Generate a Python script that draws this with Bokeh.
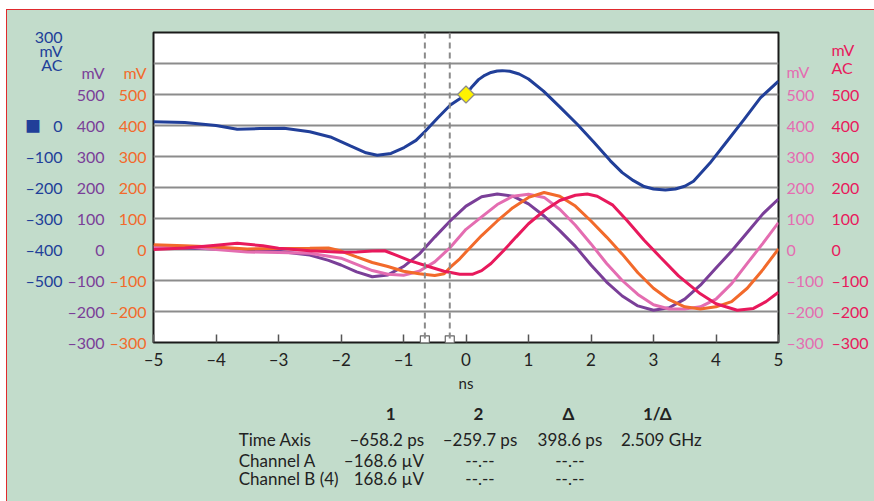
import math
from bokeh.plotting import figure
from bokeh.layouts import column
from bokeh.models import LinearAxis, Range1d, FixedTicker, Span
from bokeh.core.properties import value
from bokeh.embed import file_html
from bokeh.resources import INLINE

# ---------------- data ----------------
# time axis in ns
purple_t = [-5, -4.5, -4, -3.5, -3, -2.5, -2.2, -2.0, -1.75, -1.5, -1.25, -1.0, -0.75, -0.5, -0.25,
            0, 0.25, 0.5, 0.75, 1.0, 1.25, 1.5, 1.75, 2.0, 2.25, 2.5, 2.75, 3.0, 3.25, 3.5, 3.75,
            4.0, 4.25, 4.5, 4.75, 5.0]
purple_mv = [7, 5, 2, -3, -6, -18, -35, -50, -72, -88, -82, -55, -15, 40, 93,
             140, 170, 179, 172, 147, 108, 61, 10, -50, -105, -150, -182, -196, -188, -160, -115,
             -60, -5, 55, 115, 163]

pink_t = [-5, -4.5, -4, -3.5, -3, -2.5, -2.0, -1.75, -1.5, -1.25, -1.0, -0.75, -0.5, -0.25,
          0, 0.25, 0.5, 0.75, 1.0, 1.25, 1.5, 1.75, 2.0, 2.25, 2.5, 2.75, 3.0, 3.25, 3.5, 3.75,
          4.0, 4.25, 4.5, 4.75, 5.0]
pink_mv = [10, 10, 0, -8, -10, -12, -28, -48, -68, -80, -83, -70, -40, 7,
           65, 105, 145, 172, 178, 168, 130, 78, 18, -45, -100, -145, -178, -192, -192, -185,
           -160, -110, -45, 20, 87]

orange_t = [-5, -4.5, -4, -3.5, -3, -2.5, -2.2, -2.0, -1.75, -1.5, -1.25, -1.0, -0.75, -0.5, -0.35,
            -0.25, -0.1, 0, 0.25, 0.5, 0.75, 1.0, 1.25, 1.5, 1.75, 2.0, 2.25, 2.5, 2.75, 3.0,
            3.25, 3.5, 3.75, 4.0, 4.25, 4.5, 4.75, 5.0]
orange_mv = [15, 12, 8, 2, 3, 4, 5, -5, -24, -42, -55, -70, -78, -84, -78,
             -57, -30, -8, 45, 92, 135, 168, 184, 172, 140, 92, 40, -15, -75, -125,
             -162, -185, -192, -185, -168, -125, -65, 2]

crimson_t = [-5, -4.5, -4, -3.66, -3.25, -3.0, -2.5, -2.0, -1.75, -1.5, -1.3, -1.1, -0.9, -0.6,
             -0.35, -0.1, 0.1, 0.25, 0.4, 0.6, 0.8, 1.0, 1.25, 1.5, 1.75, 1.94, 2.1, 2.35, 2.58,
             2.85, 3.11, 3.4, 3.75, 4.0, 4.34, 4.6, 4.8, 5.0]
crimson_mv = [0, 5, 14, 20, 12, 4, -4, -9, -8, -5, -4, -20, -36, -55,
              -70, -80, -80, -68, -45, -4, 40, 83, 125, 158, 175, 179, 172, 143, 93,
              30, -25, -85, -143, -175, -196, -190, -168, -138]

# blue channel (300 mV AC), in its own axis units
blue_t = [-5, -4.5, -4.0, -3.66, -3.3, -2.91, -2.5, -2.17, -1.85, -1.6, -1.42, -1.2, -0.99, -0.8,
          -0.66, -0.45, -0.25, -0.1, 0, 0.1, 0.2, 0.3, 0.4, 0.5, 0.58, 0.7, 0.85, 1.0, 1.24, 1.5,
          1.78, 2.05, 2.31, 2.5, 2.68, 2.85, 3.0, 3.19, 3.35, 3.5, 3.64, 3.9, 4.18, 4.45, 4.71, 5.0]
blue_mv = [12, 10, 0, -12, -10, -9, -20, -37, -66, -88, -96, -90, -71, -48,
           -20, 25, 66, 86, 100, 126, 148, 162, 171, 176, 177, 175, 166, 150, 111, 60,
           4, -55, -114, -152, -178, -197, -205, -208, -205, -196, -180, -122, -50, 20, 89, 143]

trigger_t = 0.0
trigger_mv = 100
cursor_ns = [-0.6582, -0.2597]

x_ticks = [-5, -4, -3, -2, -1, 0, 1, 2, 3, 4, 5]
main_ticks = [-300, -200, -100, 0, 100, 200, 300, 400, 500]
blue_ticks = [-500, -400, -300, -200, -100, 0]
grid_ticks = [-200, -100, 0, 100, 200, 300, 400, 500, 600]

blue_header = ["300", "mV", "AC"]
crimson_header = ["mV", "AC"]
unit_header = "mV"

table_cols = ["1", "2", "Δ", "1/Δ"]
table_rows = ["Time Axis", "Channel A", "Channel B (4)"]
table_vals = [["–658.2 ps", "–259.7 ps", "398.6 ps", "2.509 GHz"],
              ["–168.6 µV", "--.--", "--.--", ""],
              ["168.6 µV", "--.--", "--.--", ""]]

# ---------------- style ----------------
FONT = "Lato"
BG = "#c2dccb"
C_BLUE = "#213f99"
C_PURPLE = "#7a3f98"
C_ORANGE = "#f26a2b"
C_PINK = "#e46db1"
C_CRIMSON = "#e8195c"
GRID = "#8c8c8c"
TXT = "#222222"
NB = "\u00a0"


def lab(v):
    return ("–" + str(abs(v))) if v < 0 else str(v)


W = 867
H_MAIN = 390
H_TAB = 101
PX0, PY0 = 7, 10          # page position of the canvas origin

p = figure(width=W, height=H_MAIN, x_range=Range1d(-5, 5), y_range=Range1d(-300, 700),
           output_backend="svg", toolbar_location=None,
           min_border_left=146, min_border_right=96, min_border_top=22, min_border_bottom=58)
p.extra_y_ranges = {"blue": Range1d(-700, 300)}
p.background_fill_color = "white"
p.border_fill_color = BG
p.outline_line_color = "#1a1a1a"
p.outline_line_width = 2

p.xgrid.visible = False
p.ygrid.ticker = FixedTicker(ticks=grid_ticks)
p.ygrid.grid_line_color = GRID
p.ygrid.grid_line_width = 2

# header rows sit above the top tick, expressed in each axis' units
HDR1 = 572.0            # "mV" row of the inner axes
BLUE_HDR = [287.8, 242.8, 197.7]
CRIM_HDR = [646.0, 588.0]


def style_axis(ax, ticks, labels, color, standoff, font=FONT):
    ax.ticker = FixedTicker(ticks=ticks)
    ax.major_label_overrides = {t: s for t, s in zip(ticks, labels)}
    ax.axis_line_color = None
    ax.major_tick_line_color = None
    ax.minor_tick_line_color = None
    ax.major_tick_out = 0
    ax.major_tick_in = 0
    ax.major_label_standoff = standoff
    ax.major_label_text_color = color
    ax.major_label_text_font = font
    ax.major_label_text_font_size = "16px"


main_labels = [lab(t) for t in main_ticks]

# left axes: orange (closest), purple, blue (outermost)
style_axis(p.yaxis[0], main_ticks + [HDR1], main_labels + [unit_header], C_ORANGE, 7)
ax_purple = LinearAxis()
style_axis(ax_purple, main_ticks + [HDR1], main_labels + [unit_header], C_PURPLE, 2)
p.add_layout(ax_purple, "left")
ax_blue = LinearAxis(y_range_name="blue")
blue_labels = [lab(t) for t in blue_ticks]
blue_labels[-1] = "■" + NB * 3 + "0"
style_axis(ax_blue, blue_ticks + BLUE_HDR, blue_labels + blue_header, C_BLUE, 2,
           font="Lato, 'Noto Sans CJK JP'")
p.add_layout(ax_blue, "left")

# right axes: pink (closest), crimson
ax_pink = LinearAxis()
style_axis(ax_pink, main_ticks + [HDR1 + 3], main_labels + [unit_header], C_PINK, 8)
p.add_layout(ax_pink, "right")
ax_crim = LinearAxis()
style_axis(ax_crim, main_ticks + CRIM_HDR, main_labels + crimson_header, C_CRIMSON, 5)
p.add_layout(ax_crim, "right")

# x axis
xa = p.xaxis[0]
xa.ticker = FixedTicker(ticks=x_ticks)
xa.major_label_overrides = {t: lab(t) for t in x_ticks}
xa.axis_line_color = None
xa.minor_tick_line_color = None
xa.major_tick_in = 8
xa.major_tick_out = 0
xa.major_tick_line_color = "#555555"
xa.major_tick_line_width = 1.5
xa.major_label_standoff = 6
xa.major_label_text_font = FONT
xa.major_label_text_font_size = "17px"
xa.major_label_text_color = TXT
xa.axis_label = "ns"
xa.axis_label_text_font = FONT
xa.axis_label_text_font_size = "15px"
xa.axis_label_text_font_style = "normal"
xa.axis_label_text_color = TXT
xa.axis_label_standoff = 1

# cursors
for c in cursor_ns:
    p.add_layout(Span(location=c, dimension="height", line_color="#8a8a8a",
                      line_dash="6 4", line_width=2))

# traces
p.line(purple_t, purple_mv, line_color=C_PURPLE, line_width=3)
p.line(pink_t, pink_mv, line_color=C_PINK, line_width=3)
p.line(orange_t, orange_mv, line_color=C_ORANGE, line_width=3)
p.line(crimson_t, crimson_mv, line_color=C_CRIMSON, line_width=3)
p.line(blue_t, blue_mv, line_color=C_BLUE, line_width=3, y_range_name="blue")

# trigger diamond and cursor handles
p.scatter([trigger_t], [trigger_mv], y_range_name="blue", marker="square", angle=math.pi / 4,
          size=12, fill_color="#fff200", line_color="#8a8a8a", line_width=1.2)
p.scatter(cursor_ns, [p.y_range.start + 7] * len(cursor_ns), marker="square", size=9,
          fill_color="white", line_color="#666666", line_width=1.2)

# ---------------- measurement table (second figure, page-pixel coords) ----------------
# In a column the frames line up horizontally with the main plot frame.
FL, FR = 152.7, 778.3
TY0 = PY0 + H_MAIN
t = figure(width=W, height=H_TAB, x_range=Range1d(FL, FR), y_range=Range1d(TY0 + H_TAB, TY0),
           output_backend="svg", toolbar_location=None, x_axis_type=None, y_axis_type=None,
           min_border_left=146, min_border_right=96, min_border_top=0, min_border_bottom=0)
t.background_fill_color = BG
t.border_fill_color = BG
t.outline_line_color = None
t.grid.visible = False

col_x = [390, 478, 568, 657]
val_x = [423.5, 479.5, 569.5, 661]
val_align = ["right", "center", "center", "center"]
row_y = [439, 459.5, 478]

common = dict(text_font=value(FONT), text_font_size="17px", text_color=TXT,
              text_baseline="middle")

t.text(x=col_x, y=[413] * len(col_x), text=table_cols,
       text_align="center", text_font_style="bold", **common)
t.text(x=[238] * len(table_rows), y=row_y, text=table_rows, text_align="left", **common)
for ci in range(4):
    xs, ys, ss = [], [], []
    for ri in range(len(table_rows)):
        s = table_vals[ri][ci]
        if s:
            xs.append(val_x[ci])
            ys.append(row_y[ri])
            ss.append(s)
    t.text(x=xs, y=ys, text=ss, text_align=val_align[ci], **common)

lay = column(p, t, spacing=0)
lay.margin = (9, 0, 0, 6)
lay.styles = {"border-left": "1px solid #e02a2e", "border-top": "1px solid #e02a2e",
              "background-color": BG}

open("out.html", "w").write(file_html(lay, INLINE))
